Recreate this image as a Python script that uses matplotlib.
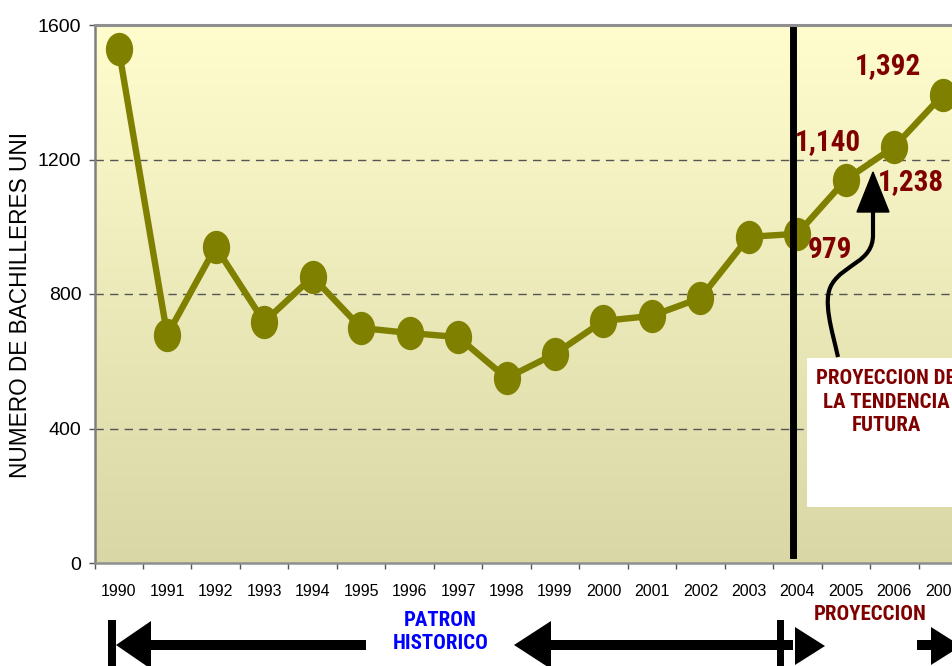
import numpy as np
import matplotlib
matplotlib.use("Agg")
import matplotlib.pyplot as plt
from matplotlib import font_manager
from matplotlib.path import Path
from matplotlib.patches import PathPatch, Polygon, Rectangle
from matplotlib.transforms import Affine2D

# ---------------- data ----------------
years = ["1990", "1991", "1992", "1993", "1994", "1995", "1996", "1997", "1998",
         "1999", "2000", "2001", "2002", "2003", "2004", "2005", "2006", "2007"]
bachilleres = [1528, 678, 940, 717, 851, 699, 684, 672, 550,
               622, 720, 735, 788, 970, 979, 1140, 1238, 1392]
label_years = ["2004", "2005", "2006", "2007"]
label_texts = ["979", "1,140", "1,238", "1,392"]
y_ticks = [0, 400, 800, 1200, 1600]
grid_levels = [400, 800, 1200]

# ---------------- fonts ----------------
fonts = font_manager.fontManager.ttflist
names = {f.name for f in fonts}
REG = "Liberation Sans" if "Liberation Sans" in names else "DejaVu Sans"
plt.rcParams["font.family"] = [REG, "DejaVu Sans"]

NARROW_KW = None
for cand in ["Liberation Sans Narrow", "Arial Narrow", "Roboto Condensed", "Open Sans Condensed"]:
    if cand in names:
        NARROW_KW = dict(family=cand)
        SCALE = 1.0
        break
if NARROW_KW is None:
    cond = [f for f in fonts if f.stretch in ("condensed", "semi-condensed", 600, 500, 700)
            or "Condensed" in f.fname or "Narrow" in f.fname]
    cond = [f for f in cond if f.weight in ("bold", 700) or "Bold" in f.fname]
    if cond:
        NARROW_KW = dict(family=cond[0].name, fontstretch=cond[0].stretch)
        SCALE = 1.0
    else:
        NARROW_KW = dict(family=REG)
        SCALE = 0.86

W, H = 953, 666
fig = plt.figure(figsize=(W / 100, H / 100), dpi=100)
fig.patch.set_facecolor("white")

# pixel transform (y measured from top)
px = Affine2D().scale(1 / W, -1 / H).translate(0, 1) + fig.transFigure

ax_left, ax_right, ax_top, ax_bot = 94.5, 967.0, 25.0, 563.0
ax = fig.add_axes([ax_left / W, (H - ax_bot) / H, (ax_right - ax_left) / W, (ax_bot - ax_top) / H])

x = np.arange(len(years))
ax.set_xlim(-0.5, len(years) - 0.5)
ax.set_ylim(0, 1600)

# background gradient
top_c = np.array([255, 253, 206]) / 255
bot_c = np.array([218, 215, 166]) / 255
t = np.linspace(0, 1, 256)[:, None]
grad = (top_c * (1 - t) + bot_c * t)[:, None, :]
ax.imshow(grad, extent=[0, 1, 0, 1], transform=ax.transAxes, aspect="auto", zorder=0)

# grid
for g in grid_levels:
    ax.axhline(g, color="#555555", lw=1.0, dashes=(6, 4.5), zorder=1)

# line with ellipse markers
ell = Path.unit_circle().transformed(Affine2D().scale(0.81, 1.0))
ax.plot(x, bachilleres, color="#808000", lw=4.6, marker=ell, markersize=23,
        markerfacecolor="#808000", markeredgecolor="#808000", zorder=3, clip_on=False)

# vertical divider
ax.axvline(13.91, ymin=(ax_bot - 555) / 538, ymax=(ax_bot - 30) / 538, color="black", lw=5, zorder=4)

# value labels
offsets = {"2004": (33, -16), "2005": (-18, 38), "2006": (17, -35), "2007": (-55, 29)}
for yr, txt in zip(label_years, label_texts):
    i = years.index(yr)
    ax.annotate(txt, xy=(i, bachilleres[i]), xytext=offsets[yr], textcoords="offset pixels",
                ha="center", va="center", fontsize=21 * SCALE, fontweight="bold",
                color="#800000", zorder=6, **NARROW_KW)

# axes styling
ax.set_yticks(y_ticks)
ax.set_yticklabels([str(v) for v in y_ticks])
ax.tick_params(axis="y", direction="out", length=4.5, width=1, color="#555555",
               labelsize=14, pad=5)
ax.set_xticks(x)
ax.set_xticklabels(years)
ax.set_xticks(np.arange(-0.5, len(years)), minor=True)
ax.tick_params(axis="x", which="major", length=0, labelsize=11.5, pad=15)
ax.tick_params(axis="x", which="minor", direction="out", length=4, width=1, color="#555555")
ax.spines["right"].set_visible(False)
ax.spines["top"].set_color("#8f8f8f")
ax.spines["top"].set_linewidth(2.2)
ax.spines["left"].set_color("#7f7f7f")
ax.spines["left"].set_linewidth(1.8)
ax.spines["bottom"].set_color("#8f8f8f")
ax.spines["bottom"].set_linewidth(1.8)

fig.text(21 / W, 1 - 304.5 / H, "NUMERO DE BACHILLERES UNI", rotation=90,
         ha="center", va="center", fontsize=16.3, color="black")

# curved arrow inside the plot
verts = [(838, 357), (832, 330), (822, 300), (832, 284),
         (844, 264), (873, 262), (873, 235), (873, 208)]
codes = [Path.MOVETO, Path.CURVE4, Path.CURVE4, Path.CURVE4,
         Path.CURVE4, Path.CURVE4, Path.CURVE4, Path.LINETO]
fig.add_artist(PathPatch(Path(verts, codes), transform=px, fill=False, lw=3, color="black", zorder=7))
fig.add_artist(Polygon([(873, 172), (857, 212), (889, 212)], closed=True, transform=px,
                       facecolor="black", edgecolor="black", zorder=7))

# white box with text
fig.add_artist(Rectangle((807, 358), 160, 149, transform=px, facecolor="white",
                         edgecolor="none", zorder=7))
fig.text(886 / W, 1 - 402 / H, "PROYECCION DE\nLA TENDENCIA\nFUTURA", ha="center", va="center",
         fontsize=15 * SCALE, fontweight="bold", color="#800000", linespacing=1.3 / SCALE,
         zorder=8, **NARROW_KW)

# bottom arrows
def rect(x0, y0, x1, y1):
    fig.add_artist(Rectangle((x0, y0), x1 - x0, y1 - y0, transform=px,
                             facecolor="black", edgecolor="none"))

def tri(pts):
    fig.add_artist(Polygon(pts, closed=True, transform=px, facecolor="black", edgecolor="none"))

rect(108, 620, 116, 670)
tri([(116, 645), (151, 621), (151, 669)])
rect(150, 640, 366, 650)
tri([(514, 645), (551, 621), (551, 669)])
rect(550, 640, 793, 650)
rect(777, 620, 784, 670)
tri([(795, 627), (795, 665), (825, 646)])
rect(917, 640, 932, 650)
tri([(931, 627), (931, 665), (961, 646)])

fig.text(440.5 / W, 1 - 632 / H, "PATRON\nHISTORICO", ha="center", va="center",
         fontsize=15 * SCALE, fontweight="bold", color="#0000FF", linespacing=1.3 / SCALE,
         **NARROW_KW)
fig.text(870 / W, 1 - 615 / H, "PROYECCION", ha="center", va="center",
         fontsize=15 * SCALE, fontweight="bold", color="#800000", **NARROW_KW)

fig.savefig("out.png", dpi=100, facecolor="white")
